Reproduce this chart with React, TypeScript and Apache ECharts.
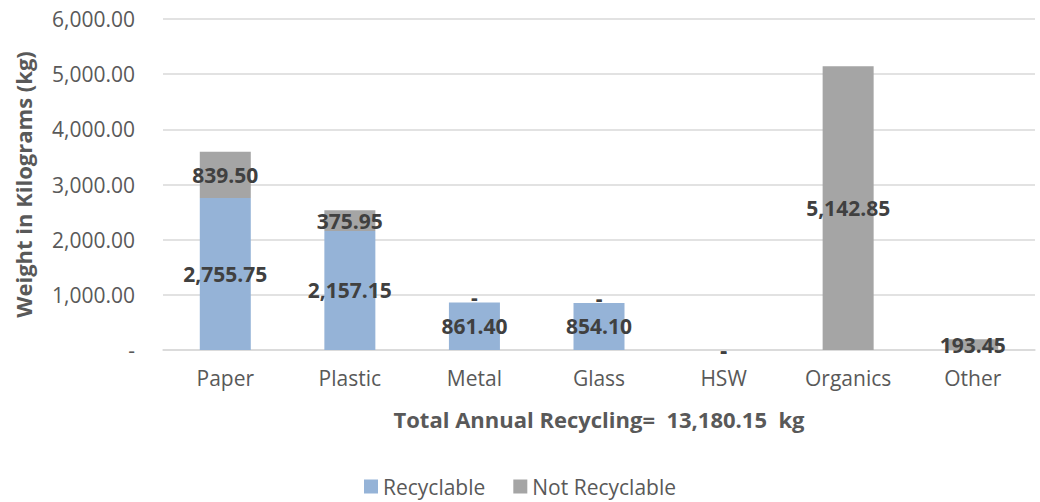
import React, { useEffect, useRef } from "react";
import * as echarts from "echarts";

const categories = ["Paper", "Plastic", "Metal", "Glass", "HSW", "Organics", "Other"];
const recyclable = [2755.75, 2157.15, 861.4, 854.1, 0, 0, 0];
const notRecyclable = [839.5, 375.95, 0, 0, 0, 5142.85, 193.45];
const yTicks = { min: 0, max: 6000, interval: 1000 };

const fmt = (v: number) =>
  v === 0
    ? "-"
    : v.toLocaleString("en-US", { minimumFractionDigits: 2, maximumFractionDigits: 2 });

const FONT = "'Open Sans', sans-serif";

export default function App() {
  const ref = useRef<HTMLDivElement>(null);

  useEffect(() => {
    document.body.style.margin = "0";
    if (!ref.current) return;
    const chart = echarts.init(ref.current, undefined, { renderer: "svg" });

    const total = [...recyclable, ...notRecyclable].reduce((a, b) => a + b, 0);

    const labelStyle = {
      show: true,
      position: "inside" as const,
      fontFamily: FONT,
      fontSize: 21,
      lineHeight: 22,
      fontWeight: "bold" as const,
      color: "#404040",
      formatter: (p: any) => fmt(p.value),
    };

    // A zero recyclable share is only labelled when the whole category is empty
    const recyclableData = recyclable.map((v, i) =>
      v === 0 && notRecyclable[i] > 0 ? { value: v, label: { show: false } } : v
    );
    // A zero non-recyclable dash sitting on a recyclable bar is lifted clear of its label
    const notRecyclableData = notRecyclable.map((v, i) =>
      v === 0 && recyclable[i] > 0 ? { value: v, label: { offset: [0, -5] } } : v
    );

    chart.setOption({
      animation: false,
      textStyle: { fontFamily: FONT },
      grid: { left: 163, right: 5, top: 19, bottom: 152 },
      legend: {
        bottom: 0,
        left: "center",
        icon: "rect",
        itemWidth: 14,
        itemHeight: 14,
        itemGap: 28,
        textStyle: { fontFamily: FONT, fontSize: 21, color: "#595959" },
        data: ["Recyclable", "Not Recyclable"],
      },
      xAxis: {
        type: "category",
        data: categories,
        axisLine: { lineStyle: { color: "#d9d9d9", width: 1.5 } },
        axisTick: { show: false },
        axisLabel: { color: "#595959", fontSize: 21, fontFamily: FONT, margin: 17 },
        name: `Total Annual Recycling=  ${fmt(total)}  kg`,
        nameLocation: "middle",
        nameGap: 58,
        nameTextStyle: { color: "#595959", fontSize: 22, fontWeight: "bold", fontFamily: FONT },
      },
      yAxis: {
        type: "value",
        min: yTicks.min,
        max: yTicks.max,
        interval: yTicks.interval,
        axisLine: { show: false },
        axisTick: { show: false },
        splitLine: { lineStyle: { color: "#d9d9d9", width: 1.5 } },
        axisLabel: {
          color: "#595959",
          fontSize: 21,
          fontFamily: FONT,
          margin: 28,
          formatter: (v: number) => fmt(v),
        },
        name: "Weight in Kilograms (kg)",
        nameLocation: "middle",
        nameGap: 129,
        nameRotate: 90,
        nameTextStyle: { color: "#595959", fontSize: 22, fontWeight: "bold", fontFamily: FONT },
      },
      series: [
        {
          name: "Recyclable",
          type: "bar",
          stack: "total",
          barWidth: 51,
          itemStyle: { color: "#95B3D7" },
          label: labelStyle,
          data: recyclableData,
        },
        {
          name: "Not Recyclable",
          type: "bar",
          stack: "total",
          barWidth: 51,
          itemStyle: { color: "#A5A5A5" },
          label: labelStyle,
          data: notRecyclableData,
        },
      ],
    });

    return () => chart.dispose();
  }, []);

  return <div ref={ref} style={{ width: 1040, height: 502 }} />;
}
